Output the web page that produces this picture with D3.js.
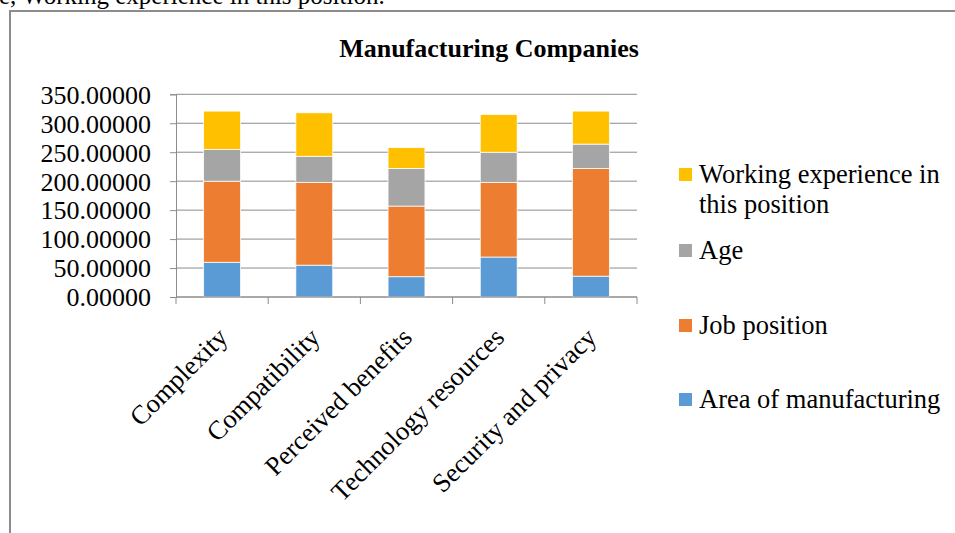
<!DOCTYPE html>
<meta charset="utf-8">
<script src="https://d3js.org/d3.v7.min.js"></script>
<style>
  body { margin: 0; background: #fff; }
  text { font-family: "Liberation Serif", "Times New Roman", serif; fill: #000; }
</style>
<svg id="chart" width="955" height="533"></svg>
<script>

// Chart data
const categories = ["Complexity", "Compatibility", "Perceived benefits", "Technology resources", "Security and privacy"];
const seriesNames = ["Area of manufacturing", "Job position", "Age", "Working experience in this position"];
const areaOfManufacturing = [60, 55, 35, 69, 36];
const jobPosition = [140, 143, 122, 129, 186];
const age = [55, 45, 65, 52, 42];
const workingExperience = [66, 75, 36, 65, 57];
const yTicks = [0, 50, 100, 150, 200, 250, 300, 350];
const colors = ["#5B9BD5", "#ED7D31", "#A5A5A5", "#FFC000"];

const svg = d3.select("#chart");

// cut-off line of document text above the chart
svg.append("text")
  .attr("x", -1).attr("y", 4)
  .style("font-size", "25px")
  .text("e, Working experience in this position.");

// chart frame
svg.append("path")
  .attr("d", "M10,540 L10,11 L960,11")
  .attr("fill", "none")
  .attr("stroke", "#8c8c8c")
  .attr("stroke-width", 2);

svg.append("text")
  .attr("x", 489).attr("y", 57)
  .attr("text-anchor", "middle")
  .style("font-size", "26px")
  .style("font-weight", "bold")
  .text("Manufacturing Companies");

const x = d3.scaleBand().domain(categories).range([176, 637]).padding(0);
const y = d3.scaleLinear().domain([0, 350]).range([297, 94.3]);

// gridlines
svg.append("g")
  .selectAll("line")
  .data(yTicks)
  .join("line")
    .attr("x1", 176).attr("x2", 637)
    .attr("y1", d => y(d)).attr("y2", d => y(d))
    .attr("stroke", "#8c8c8c");

// y axis
const yAxis = svg.append("g")
  .attr("transform", "translate(176,0)")
  .call(d3.axisLeft(y).tickValues(yTicks).tickSize(6).tickFormat(d3.format(".5f")));
yAxis.select(".domain").attr("stroke", "#8c8c8c");
yAxis.selectAll(".tick line").attr("stroke", "#8c8c8c");
yAxis.selectAll(".tick text")
  .attr("x", -25)
  .attr("dy", "0.34em")
  .style("font-size", "26px")
  .attr("font-family", null);

// stacked bars
const rows = categories.map((c, i) => ({
  category: c,
  "Area of manufacturing": areaOfManufacturing[i],
  "Job position": jobPosition[i],
  "Age": age[i],
  "Working experience in this position": workingExperience[i]
}));
const stacked = d3.stack().keys(seriesNames)(rows);
const barW = x.bandwidth() * 0.4;

svg.append("g")
  .selectAll("g")
  .data(stacked)
  .join("g")
    .attr("fill", (d, i) => colors[i])
  .selectAll("rect")
  .data(d => d)
  .join("rect")
    .attr("x", d => x(d.data.category) + x.bandwidth() / 2 - barW / 2)
    .attr("y", d => y(d[1]))
    .attr("width", barW)
    .attr("height", d => y(d[0]) - y(d[1]))
    .attr("stroke", "#fff")
    .attr("stroke-width", 0.75);

// x axis
const xAxis = svg.append("g")
  .attr("transform", "translate(0,297)");
xAxis.append("line")
  .attr("x1", 176).attr("x2", 637)
  .attr("stroke", "#8c8c8c");
xAxis.selectAll("line.tick")
  .data(d3.range(categories.length + 1))
  .join("line")
    .attr("class", "tick")
    .attr("x1", i => 176 + i * x.step()).attr("x2", i => 176 + i * x.step())
    .attr("y1", 0).attr("y2", 7)
    .attr("stroke", "#8c8c8c");
xAxis.selectAll("text")
  .data(categories)
  .join("text")
    .attr("text-anchor", "end")
    .attr("transform", d => `translate(${x(d) + x.bandwidth() / 2 + 7},42) rotate(-45)`)
    .style("font-size", "26.5px")
    .text(d => d);

// legend
const legendItems = [
  { name: seriesNames[3], color: colors[3], y: 183, lines: ["Working experience in", "this position"] },
  { name: seriesNames[2], color: colors[2], y: 259, lines: ["Age"] },
  { name: seriesNames[1], color: colors[1], y: 334, lines: ["Job position"] },
  { name: seriesNames[0], color: colors[0], y: 408, lines: ["Area of manufacturing"] }
];
const legend = svg.append("g")
  .selectAll("g")
  .data(legendItems)
  .join("g");
legend.append("rect")
  .attr("x", 679).attr("y", d => d.y - 15)
  .attr("width", 13).attr("height", 13)
  .attr("fill", d => d.color);
legend.append("text")
  .attr("x", 699).attr("y", d => d.y)
  .style("font-size", "26.5px")
  .selectAll("tspan")
  .data(d => d.lines)
  .join("tspan")
    .attr("x", 699)
    .attr("dy", (d, i) => i === 0 ? 0 : 30)
    .text(d => d);

</script>
